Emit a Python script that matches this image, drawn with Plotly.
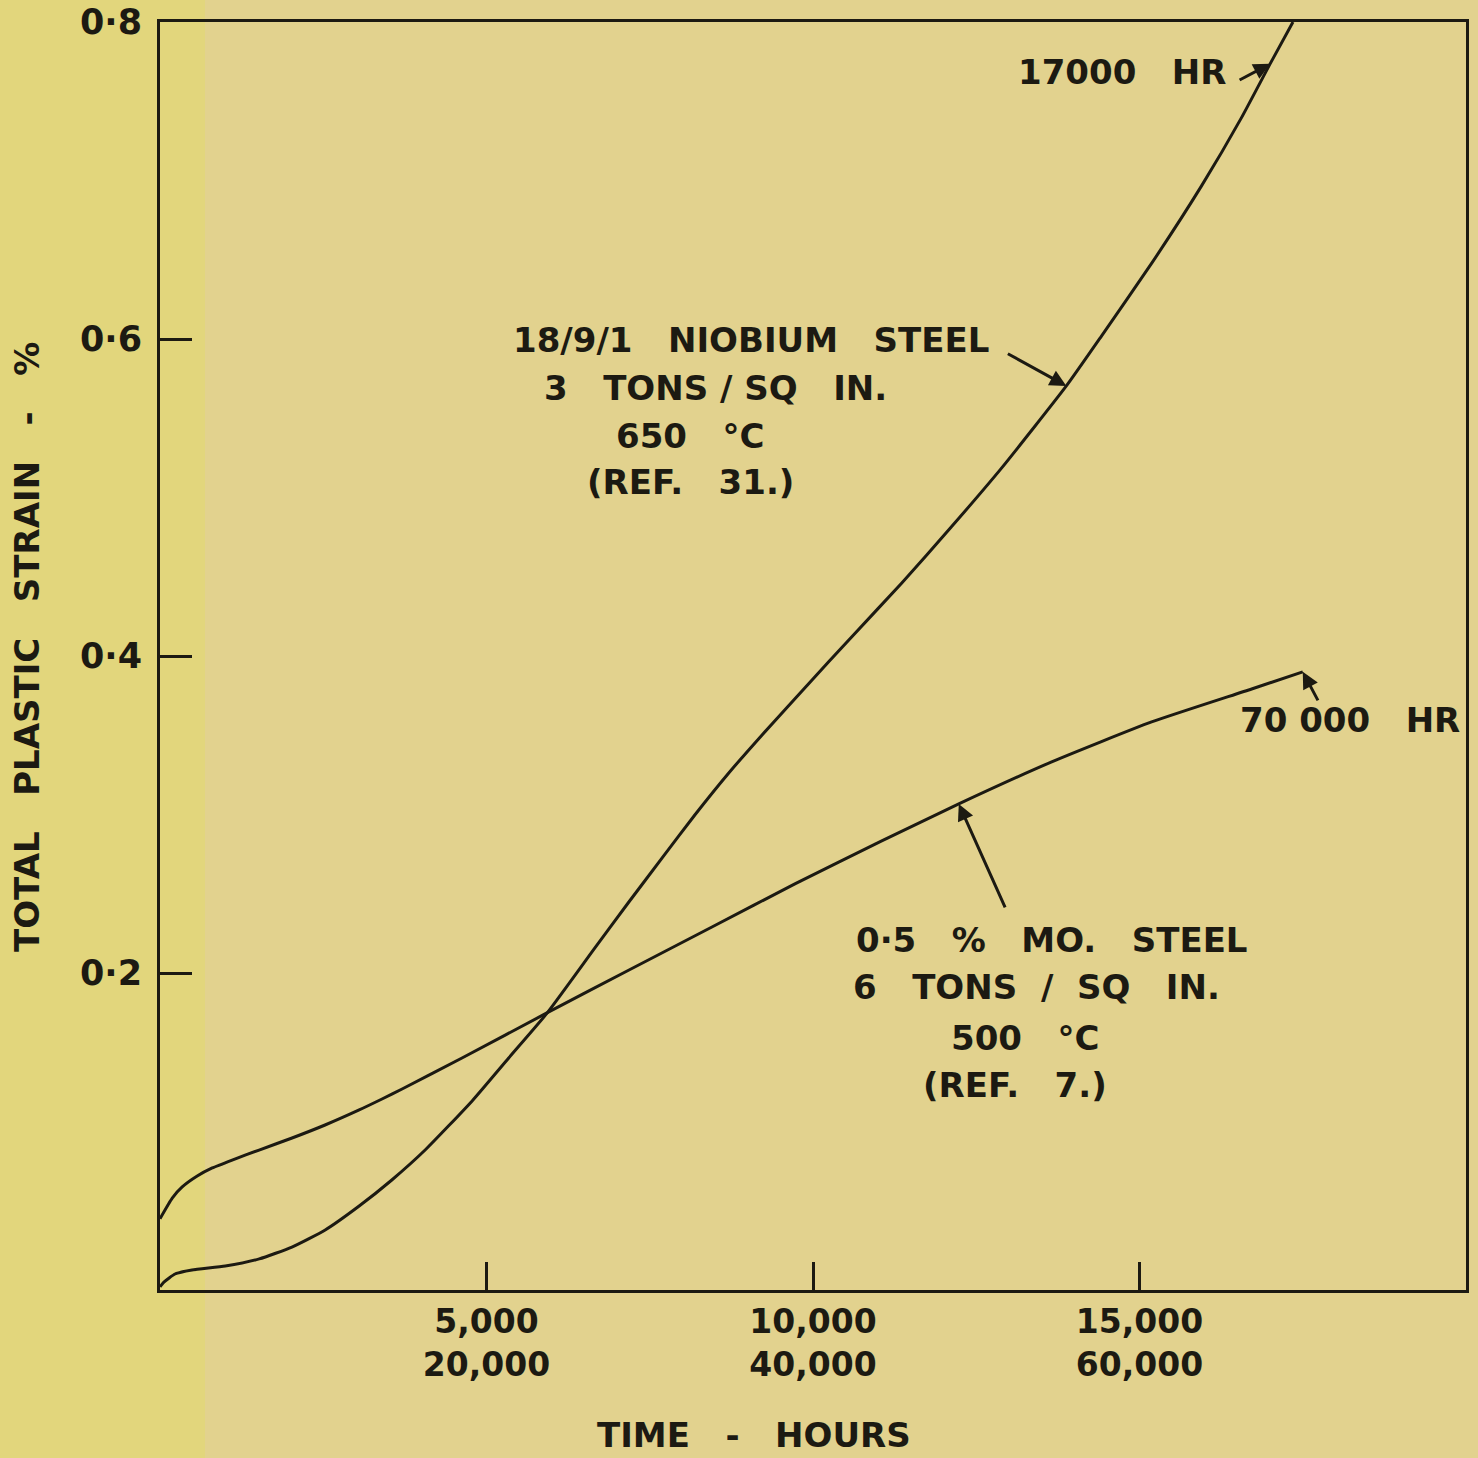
import plotly.graph_objects as go

# Creep curves: total plastic strain (%) against time (hours)
# 18/9/1 niobium steel, 3 tons/sq in, 650 °C  (time read on the upper scale, 0-20,000 h)
nb_hours = [0, 60, 230, 490, 1000, 1520, 2020, 2530, 3050, 3550, 4060, 4780,
            5340, 5930, 6660, 7180, 7690, 8190, 8710, 9220, 9720, 10240,
            10620, 11360, 12120, 12890, 13880, 14420, 15190, 15950, 16560,
            17000, 17350]
nb_strain = [0.002, 0.005, 0.0101, 0.0126, 0.0151, 0.0196, 0.0271, 0.0379,
             0.053, 0.0694, 0.0883, 0.1193, 0.1464, 0.1748, 0.2158, 0.2448,
             0.2726, 0.2997, 0.3262, 0.3502, 0.3729, 0.3963, 0.4133, 0.4461,
             0.4815, 0.5187, 0.5704, 0.602, 0.648, 0.6966, 0.7395, 0.7736,
             0.80]

# 0.5 % Mo steel, 6 tons/sq in, 500 °C  (time read on the lower scale, 0-80,000 h)
mo_hours = [0, 750, 1360, 2280, 3200, 4420, 6070, 8090, 10110, 12200, 13600,
            14830, 18500, 23700, 28730, 33810, 38890, 44210, 48930, 54620,
            60740, 66870, 70000]
mo_strain = [0.045, 0.058, 0.065, 0.0719, 0.077, 0.082, 0.0883, 0.0959,
             0.1041, 0.1136, 0.1205, 0.1268, 0.1464, 0.1748, 0.2019, 0.229,
             0.2562, 0.2833, 0.3067, 0.3332, 0.3584, 0.3792, 0.39]

x_tickvals = [5000, 10000, 15000]
x_ticktext = ["5,000<br>20,000", "10,000<br>40,000", "15,000<br>60,000"]
y_tickvals = [0.2, 0.4, 0.6, 0.8]
y_ticktext = ["0·2", "0·4", "0·6", "0·8"]

W, H = 1478, 1458
L, R, T, B = 160, 12, 22, 168
PW, PH = W - L - R, H - T - B

INK = "#1c1a12"
PAPER = "#e2d28e"
FONT = "DejaVu Sans"


def px(xp):
    return (xp - L) / PW


def py(yp):
    return (H - B - yp) / PH


fig = go.Figure()
fig.add_trace(go.Scatter(x=nb_hours, y=nb_strain, mode="lines",
                         line=dict(color=INK, width=3, shape="spline", smoothing=0.5),
                         xaxis="x", yaxis="y", hoverinfo="skip"))
fig.add_trace(go.Scatter(x=mo_hours, y=mo_strain, mode="lines",
                         line=dict(color=INK, width=3, shape="spline", smoothing=0.5),
                         xaxis="x2", yaxis="y", hoverinfo="skip"))


def label(text, xc, yc, size=34):
    fig.add_annotation(text=text, x=px(xc), y=py(yc), xref="paper", yref="paper",
                       showarrow=False, xanchor="center", yanchor="middle",
                       font=dict(family=FONT, size=size, color=INK, weight="bold"))


# Niobium steel legend block
label("18/9/1   NIOBIUM   STEEL", 751, 340)
label("3   TONS / SQ   IN.", 715, 388)
label("650   °C", 690, 436)
label("(REF.   31.)", 690, 482)

# Mo steel legend block
label("0·5   %   MO.   STEEL", 1052, 940)
label("6   TONS  /  SQ   IN.", 1036, 987)
label("500   °C", 1025, 1038)
label("(REF.   7.)", 1015, 1085)

label("17000   HR", 1122, 72)
label("70 000   HR", 1350, 720)

arrow = dict(showarrow=True, arrowhead=2, arrowsize=1.1, arrowwidth=3,
             arrowcolor=INK, text="")
# leader arrows pointing at the curves
fig.add_annotation(x=13880, y=0.5704, xref="x", yref="y", ax=-60, ay=-33, **arrow)
fig.add_annotation(x=48930, y=0.3067, xref="x2", yref="y", ax=47, ay=105, **arrow)
fig.add_annotation(x=17000, y=0.7736, xref="x", yref="y", ax=-32, ay=17, **arrow)
fig.add_annotation(x=70000, y=0.39, xref="x2", yref="y", ax=16, ay=30, **arrow)

# axis titles
label("TIME   -   HOURS", 754, 1435)
fig.add_annotation(text="TOTAL   PLASTIC   STRAIN   -   %", x=px(27), y=py(647),
                   xref="paper", yref="paper", showarrow=False, textangle=-90,
                   xanchor="center", yanchor="middle",
                   font=dict(family=FONT, size=34, color=INK, weight="bold"))

axis_common = dict(showgrid=False, zeroline=False, showline=True, linecolor=INK,
                   linewidth=3, mirror=True, ticks="inside", tickwidth=3,
                   tickcolor=INK, automargin=False)

fig.update_layout(
    width=W, height=H,
    margin=dict(l=L, r=R, t=T, b=B),
    paper_bgcolor=PAPER, plot_bgcolor=PAPER,
    showlegend=False,
    xaxis=dict(range=[0, 20000], tickvals=x_tickvals, ticktext=x_ticktext,
               ticklen=28, ticklabelstandoff=0,
               tickfont=dict(family=FONT, size=33, color=INK, weight="bold"),
               **axis_common),
    xaxis2=dict(range=[0, 80000], overlaying="x", side="bottom", visible=False),
    yaxis=dict(range=[0, 0.8], tickvals=y_tickvals, ticktext=y_ticktext,
               ticklen=32, ticklabelstandoff=8,
               tickfont=dict(family=FONT, size=35, color=INK, weight="bold"),
               **axis_common),
    shapes=[dict(type="rect", xref="paper", yref="paper", x0=px(0), x1=px(205),
                 y0=py(H), y1=py(0), fillcolor="#e2d67c", line=dict(width=0),
                 layer="below")],
)

fig.write_html("out.html")
